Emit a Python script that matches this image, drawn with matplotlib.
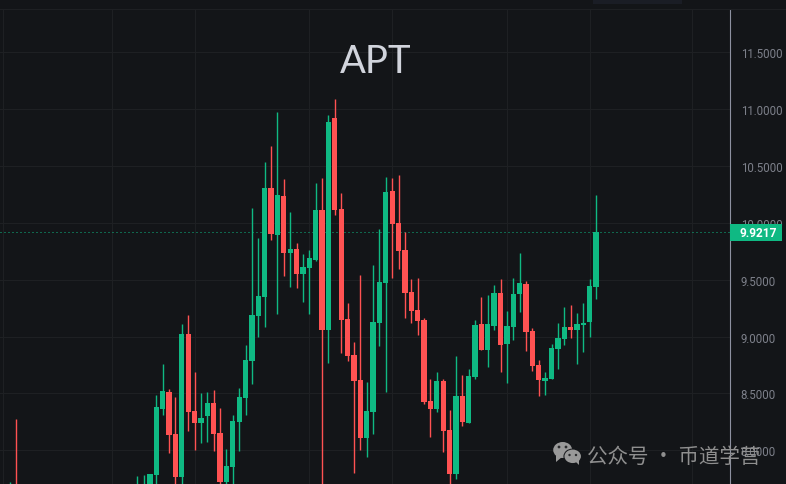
import numpy as np
import matplotlib
matplotlib.use('Agg')
import matplotlib.pyplot as plt
from matplotlib.patches import Ellipse, Polygon, Rectangle

# Candles, index is the bar position on the time axis
bar_index = [-23, -22, -3, -2, -1] + list(range(0, 70))
open_p = [7.50, 7.65, 7.50, 7.52, 7.60,
          7.783, 8.364, 8.513, 8.144, 7.765, 9.023, 8.346, 8.240, 8.302, 8.416,
          8.152, 7.721, 7.853, 8.249, 8.460, 8.786, 9.182, 9.349, 10.308, 9.894,
          10.237, 9.736, 9.771, 9.551, 9.604, 9.674, 10.114, 9.058, 10.923, 10.123,
          9.155, 8.839, 8.619, 8.108, 8.337, 9.120, 9.472, 10.281, 10.000, 9.762,
          9.393, 9.235, 9.146, 8.434, 8.364, 8.610, 8.179, 7.792, 8.478, 8.240,
          8.645, 9.111, 8.883, 9.094, 9.384, 8.935, 9.085, 9.375, 9.463, 9.050,
          8.751, 8.610, 8.627, 8.891, 8.979, 9.085, 9.058, 9.102, 9.129, 9.437]
close_p = [7.60, 7.55, 7.62, 7.65, 7.792,
           8.381, 8.522, 8.135, 7.765, 9.023, 8.337, 8.240, 8.284, 8.416, 8.144,
           7.721, 7.862, 8.258, 8.469, 8.795, 9.191, 9.358, 10.308, 9.903, 10.246,
           9.736, 9.771, 9.551, 9.613, 9.692, 10.114, 9.058, 10.888, 10.114, 9.146,
           8.830, 8.610, 8.108, 8.346, 9.129, 9.481, 10.272, 9.991, 9.754, 9.384,
           9.226, 9.138, 8.425, 8.364, 8.610, 8.170, 7.792, 8.478, 8.249, 8.654,
           9.102, 8.883, 9.111, 9.384, 8.927, 9.094, 9.375, 9.472, 9.041, 8.742,
           8.619, 8.636, 8.900, 8.988, 9.085, 9.058, 9.111, 9.120, 9.446, 9.9217]
high_p = [7.721, 8.276, 7.774, 7.783, 7.792,
          8.487, 8.759, 8.540, 8.469, 9.111, 9.191, 8.689, 8.504, 8.513, 8.531,
          8.372, 8.012, 8.311, 8.548, 8.927, 10.132, 9.868, 10.536, 10.677, 10.976,
          10.387, 10.097, 9.824, 9.727, 9.762, 10.352, 10.396, 10.950, 11.091, 10.264,
          9.296, 8.953, 9.542, 8.601, 9.630, 9.947, 10.404, 10.396, 10.422, 9.921,
          9.507, 9.516, 9.164, 8.627, 8.689, 8.627, 8.355, 8.830, 8.663, 8.715,
          9.146, 9.349, 9.366, 9.455, 9.507, 9.226, 9.516, 9.736, 9.490, 9.076,
          8.795, 8.689, 8.935, 9.120, 9.261, 9.278, 9.208, 9.296, 9.507, 10.246]
low_p = [7.45, 7.45, 7.45, 7.50, 7.55,
         7.60, 8.311, 7.977, 7.60, 7.60, 8.170, 8.003, 8.065, 8.073, 7.994,
         7.70, 7.60, 7.60, 7.994, 8.311, 8.584, 8.997, 9.085, 9.850, 9.199,
         9.534, 9.437, 9.428, 9.305, 9.199, 9.666, 7.60, 8.768, 10.070, 8.856,
         8.786, 7.800, 8.003, 7.941, 8.144, 8.918, 8.513, 9.516, 9.595, 9.164,
         9.120, 9.015, 8.408, 8.117, 8.337, 7.985, 7.60, 7.748, 8.214, 8.240,
         8.627, 8.883, 8.733, 9.058, 8.689, 8.592, 8.971, 9.217, 8.874, 8.698,
         8.478, 8.487, 8.627, 8.715, 8.927, 8.988, 8.759, 8.865, 8.997, 9.331]

price_ticks = [8.0, 8.5, 9.0, 9.5, 10.0, 10.5, 11.0, 11.5]
time_grid = [-24, -7, 6, 24, 37, 55, 68, 84]
last_price = 9.9217

bg = '#131518'
grid = '#1e2023'
green = '#0FB983'
red = '#FF5252'

W, H = 786, 485
fig = plt.figure(figsize=(W / 100, H / 100), dpi=100, facecolor=bg)
ax = fig.add_axes([0, 0, 730.3 / W, (H - 11) / H], facecolor=bg)

x = np.array(bar_index)
o = np.array(open_p)
c = np.array(close_p)
colors = [green if cc >= oo else red for oo, cc in zip(o, c)]

# Wicks and bodies
ax.vlines(x, low_p, high_p, colors=colors, linewidth=1.0, zorder=3)
ax.bar(x, np.abs(c - o), bottom=np.minimum(o, c), width=0.84, color=colors, linewidth=0, zorder=4)

ax.set_xlim(-24.52, 90.04)
ax.set_ylim(7.7038, 11.8735)

ax.set_xticks(time_grid)
ax.set_yticks(price_ticks)
ax.set_yticklabels(['{:.4f}'.format(p) for p in price_ticks], fontfamily='Roboto', fontsize=8.3, color='#7d808a')
ax.yaxis.tick_right()
ax.tick_params(axis='y', length=0, pad=7.6)
ax.tick_params(axis='x', length=0, labelbottom=False)
ax.grid(True, color=grid, linewidth=0.8)
ax.set_axisbelow(True)

for side in ['left', 'top', 'bottom']:
    ax.spines[side].set_visible(False)
ax.spines['right'].set_color('#8d91a0')
ax.spines['right'].set_linewidth(0.8)

# Last price line and its tag on the scale
ax.axhline(last_price, color=green, linewidth=0.72, linestyle=(0, (1, 3)), zorder=2)
tag = Rectangle((1, last_price - 0.078), 51.5 / 730.3, 0.147, transform=ax.get_yaxis_transform(),
                facecolor=green, edgecolor='none', clip_on=False, zorder=6)
ax.add_patch(tag)
ax.text(1 + 27.7 / 730.3, last_price - 0.005, '{:.4f}'.format(last_price), transform=ax.get_yaxis_transform(),
        color='white', fontfamily='Roboto', fontweight='bold', fontsize=8.6, ha='center', va='center',
        clip_on=False, zorder=7)

# Top strip
fig.add_artist(plt.Line2D([0, 1], [1 - 9.5 / H, 1 - 9.5 / H], color=grid, linewidth=0.8))
fig.add_artist(Rectangle((593 / W, 1 - 4.5 / H), 89 / W, 4.5 / H, transform=fig.transFigure,
                         facecolor='#1a1d25', edgecolor='none'))

fig.text(375.5 / W, 1 - 62 / H, 'APT', fontfamily='Lato', fontsize=27.5, color='#d1d4dc', ha='center', va='center')


def px(xp, yp):
    return (xp / W, 1 - yp / H)


# Watermark
mark = '#999999'
fig.add_artist(Ellipse(px(562.7, 451), 19 / W, 16 / H, transform=fig.transFigure, facecolor=mark, edgecolor='none', zorder=5))
fig.add_artist(Polygon([px(556, 456), px(556, 463), px(562, 458)], transform=fig.transFigure, facecolor=mark, edgecolor='none', zorder=5))
fig.add_artist(Ellipse(px(572.7, 457.3), 18.5 / W, 15.5 / H, transform=fig.transFigure, facecolor=bg, edgecolor='none', zorder=5))
fig.add_artist(Ellipse(px(572.7, 457.3), 16.5 / W, 13.5 / H, transform=fig.transFigure, facecolor=mark, edgecolor='none', zorder=5))
fig.add_artist(Polygon([px(575, 462), px(579, 466), px(579, 460)], transform=fig.transFigure, facecolor=mark, edgecolor='none', zorder=5))
for ex, ey, er in [(559, 448, 1.4), (566, 448, 1.4), (569.5, 456, 1.2), (576, 456, 1.2)]:
    fig.add_artist(Ellipse(px(ex, ey), 2 * er / W, 2 * er / H, transform=fig.transFigure, facecolor='#2a2b2d', edgecolor='none', zorder=5))
fig.text(587 / W, 1 - 456.5 / H, '公众号 · 币道学营', fontfamily=['Noto Sans CJK SC', 'DejaVu Sans'], fontsize=14.8,
         color='#8f8f8f', ha='left', va='center', zorder=5)

fig.savefig('out.png', dpi=100, facecolor=bg)
